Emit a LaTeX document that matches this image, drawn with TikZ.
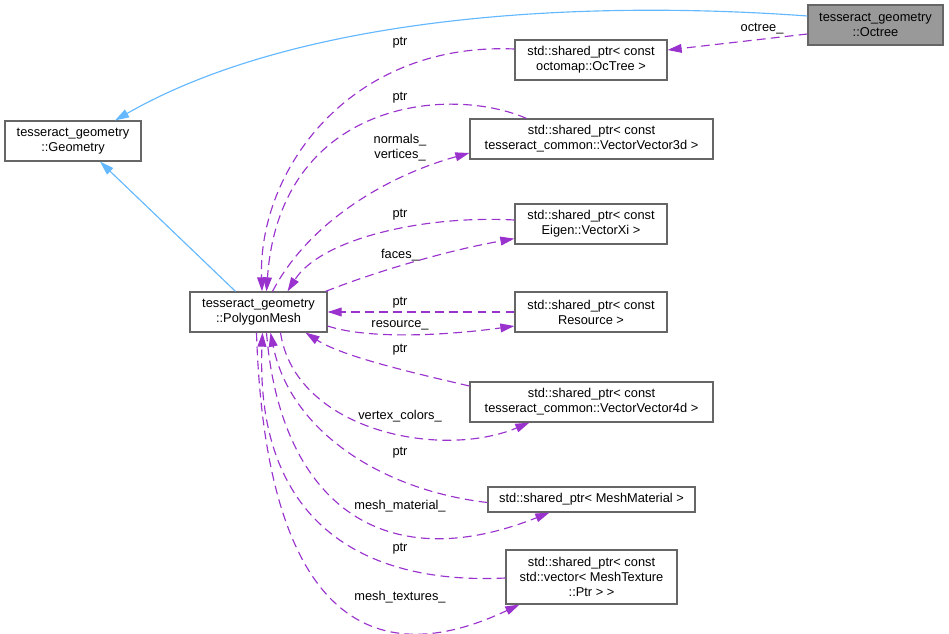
\documentclass[tikz,border=0pt]{standalone}
\usepackage{fontspec}
\setmainfont{Liberation Sans}
\usetikzlibrary{arrows.meta}
\usetikzlibrary{calc}
\definecolor{inherit}{HTML}{63B8FF}
\definecolor{usage}{HTML}{9A32CD}
\definecolor{frame}{HTML}{666666}
\definecolor{current}{HTML}{999999}

\begin{document}
\begin{tikzpicture}[x=0.02cm, y=-0.02cm,
cls/.style = {draw=frame, fill=white, line width=0.7pt, inner sep=0pt,
             minimum height=0.8cm, minimum width=#1, align=center,
             font=\fontsize{7.3}{8.6}\selectfont},
cls/.default = 3.04cm,  % width of the shared_ptr boxes
base/.style = {inherit, line width=0.65pt,
             -{Triangle[length=8pt,width=5pt]}},
member/.style = {usage, line width=0.65pt, dash pattern=on 5pt off 3pt,
             -{Triangle[length=8pt,width=5pt]}},
lbl/.style = {font=\fontsize{7.3}{8.6}\selectfont, inner sep=0pt, align=center}
                ]
    \useasboundingbox (0,0) rectangle (949,634);

    % classes
    \node[cls=2.70cm, fill=current] at (875.5,25) (octree) {tesseract\_geometry\\::Octree};
    \node[cls=2.72cm] at (73,141) (geometry) {tesseract\_geometry\\::Geometry};
    \node[cls=2.74cm] at (258.5,312) (mesh) {tesseract\_geometry\\::PolygonMesh};

    % members
    \node[cls] at (591,60) (octomap) {std::shared\_ptr< const\\octomap::OcTree >};
    \node[cls=4.86cm] at (591.5,139) (vec3d) {std::shared\_ptr< const\\ tesseract\_common::VectorVector3d >};
    \node[cls] at (591,224) (vecxi) {std::shared\_ptr< const\\Eigen::VectorXi >};
    \node[cls] at (591,312) (resource) {std::shared\_ptr< const\\Resource >};
    \node[cls=4.86cm] at (591.5,402) (vec4d) {std::shared\_ptr< const\\ tesseract\_common::VectorVector4d >};
    \node[cls=4.14cm, minimum height=0.5cm] at (591.5,499.5) (material) {std::shared\_ptr< MeshMaterial >};
    \node[cls=3.42cm, minimum height=1.08cm] at (591.5,577) (texture) {std::shared\_ptr< const\\std::vector< MeshTexture\\::Ptr > >};

    % inheritance
    \draw[base] ($(octree.west)+(0,-9)$) .. controls (560,-2) and (290,20) .. ($(geometry.north)+(42,0)$);
    \draw[base] ($(mesh.north)+(-23,0)$) -- ($(geometry.south)+(27,0)$);

    % usage
    \draw[member] ($(octree.west)+(0,9)$) -- ($(octomap.east)+(0,-10)$);
    \draw[member] ($(octomap.west)+(0,-11)$) .. controls (350,42) and (258,170) .. ($(mesh.north)+(3.5,0)$);
    \draw[member] ($(vec3d.north west)+(57,0)$) .. controls (450,85) and (280,100) .. ($(mesh.north)+(8,0)$);
    \draw[member] ($(mesh.north)+(14,0)$) .. controls (310,220) and (390,175) .. ($(vec3d.west)+(0,14)$);
    \draw[member] ($(vecxi.west)+(0,-4)$) .. controls (420,215) and (320,240) .. ($(mesh.north)+(29,0)$);
    \draw[member] ($(mesh.north east)+(-2,0)$) .. controls (380,270) and (450,250) .. ($(vecxi.south west)+(0,-6)$);
    \draw[member] (resource.west) -- (mesh.east);
    \draw[member] ($(mesh.east)+(0,14)$) .. controls (370,340) and (450,335) .. ($(resource.west)+(0,14)$);
    \draw[member] ($(vec4d.west)+(0,-16)$) .. controls (400,370) and (340,355) .. ($(mesh.south)+(47,0)$);
    \draw[member] ($(mesh.south)+(22,0)$) .. controls (295,430) and (440,460) .. ($(vec4d.south west)+(60,0)$);
    \draw[member] ($(material.west)+(0,3)$) .. controls (380,490) and (290,430) .. ($(mesh.south)+(12,0)$);
    \draw[member] ($(mesh.south)+(8,0)$) .. controls (280,500) and (380,580) .. ($(material.south west)+(62,0)$);
    \draw[member] ($(texture.west)+(0,1)$) .. controls (360,585) and (255,520) .. ($(mesh.south)+(4,0)$);
    \draw[member] ($(mesh.south)+(-2,0)$) .. controls (265,600) and (360,680) .. ($(texture.south west)+(14,0)$);

    % edge labels
    \node[lbl] at (762,29) (loctree) {octree\_};
    \foreach \y/\t [count=\i] in {43/ptr, 98/ptr, 148/{normals\_\\vertices\_}, 215/ptr,
            255/faces\_, 303/ptr, 325/resource\_, 350/ptr, 416/vertex\_colors\_,
            453/ptr, 506/mesh\_material\_, 549/ptr, 597/mesh\_textures\_}
        \node[lbl] at (400,\y) (l\i) {\t};
\end{tikzpicture}
\end{document}
